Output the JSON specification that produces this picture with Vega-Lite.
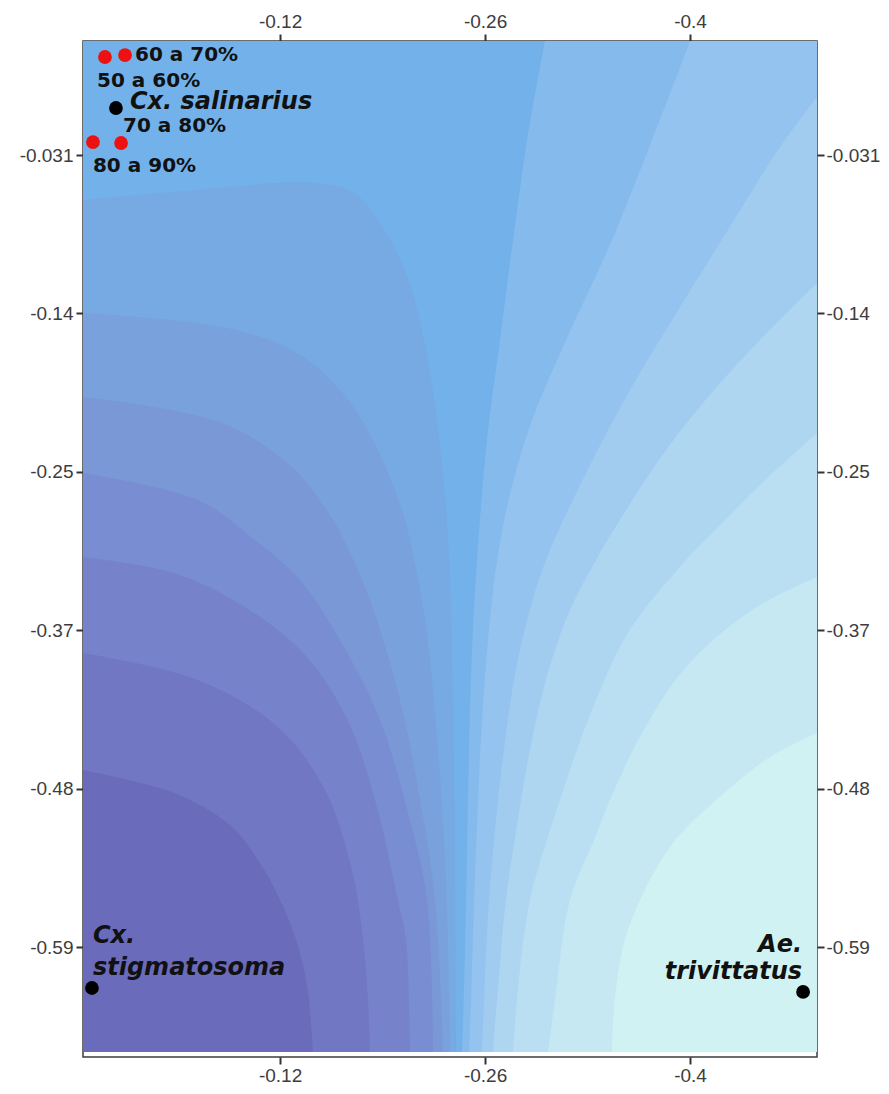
{
  "$schema": "https://vega.github.io/schema/vega-lite/v6.json",
  "width": 734,
  "height": 1016,
  "autosize": {"type": "none"},
  "padding": {"left": 83, "top": 41, "right": 72, "bottom": 37},
  "background": "white",
  "config": {
    "view": {"stroke": "#3c3c3c", "strokeWidth": 1.5},
    "axis": {
      "grid": false, "domain": false, "title": null,
      "tickSize": 7, "tickWidth": 2, "tickColor": "#333333",
      "labelFont": "Liberation Sans", "labelFontSize": 19, "labelColor": "#3d3d3d",
      "labelExpr": "replace(format(datum.value, '.2~r'), '\u2212', '-')"
    }
  },
  "datasets": {
    "bands": [
      {"band": "B1", "x": 0.0146, "y": -0.0627}, {"band": "B1", "x": -0.0476, "y": -0.0571}, {"band": "B1", "x": -0.1411, "y": -0.0507}, {"band": "B1", "x": -0.1705, "y": -0.0578}, {"band": "B1", "x": -0.1896, "y": -0.0818}, {"band": "B1", "x": -0.2060, "y": -0.1142}, {"band": "B1", "x": -0.2183, "y": -0.1615}, {"band": "B1", "x": -0.2286, "y": -0.2321}, {"band": "B1", "x": -0.2347, "y": -0.3027}, {"band": "B1", "x": -0.2381, "y": -0.4156}, {"band": "B1", "x": -0.2395, "y": -0.5427}, {"band": "B1", "x": -0.2402, "y": -0.6641},
      {"band": "B2", "x": 0.0146, "y": -0.1425}, {"band": "B2", "x": -0.0803, "y": -0.1524}, {"band": "B2", "x": -0.1281, "y": -0.1686}, {"band": "B2", "x": -0.1609, "y": -0.1968}, {"band": "B2", "x": -0.1835, "y": -0.2321}, {"band": "B2", "x": -0.2026, "y": -0.2794}, {"band": "B2", "x": -0.2087, "y": -0.3027}, {"band": "B2", "x": -0.2190, "y": -0.3592}, {"band": "B2", "x": -0.2279, "y": -0.4509}, {"band": "B2", "x": -0.2333, "y": -0.5427}, {"band": "B2", "x": -0.2361, "y": -0.6641},
      {"band": "B3", "x": 0.0146, "y": -0.2018}, {"band": "B3", "x": -0.0803, "y": -0.2201}, {"band": "B3", "x": -0.1281, "y": -0.2512}, {"band": "B3", "x": -0.1575, "y": -0.2907}, {"band": "B3", "x": -0.1637, "y": -0.3027}, {"band": "B3", "x": -0.1814, "y": -0.3450}, {"band": "B3", "x": -0.2019, "y": -0.4156}, {"band": "B3", "x": -0.2156, "y": -0.4862}, {"band": "B3", "x": -0.2258, "y": -0.5568}, {"band": "B3", "x": -0.2313, "y": -0.6641},
      {"band": "B4", "x": 0.0146, "y": -0.2554}, {"band": "B4", "x": -0.0639, "y": -0.2745}, {"band": "B4", "x": -0.1029, "y": -0.3027}, {"band": "B4", "x": -0.1336, "y": -0.3309}, {"band": "B4", "x": -0.1609, "y": -0.3733}, {"band": "B4", "x": -0.1883, "y": -0.4297}, {"band": "B4", "x": -0.2087, "y": -0.5003}, {"band": "B4", "x": -0.2204, "y": -0.5568}, {"band": "B4", "x": -0.2245, "y": -0.6641},
      {"band": "B5", "x": 0.0146, "y": -0.3147}, {"band": "B5", "x": -0.0476, "y": -0.3260}, {"band": "B5", "x": -0.0960, "y": -0.3500}, {"band": "B5", "x": -0.1384, "y": -0.3853}, {"band": "B5", "x": -0.1671, "y": -0.4319}, {"band": "B5", "x": -0.1862, "y": -0.4911}, {"band": "B5", "x": -0.2005, "y": -0.5568}, {"band": "B5", "x": -0.2060, "y": -0.5843}, {"band": "B5", "x": -0.2087, "y": -0.6641},
      {"band": "B6", "x": 0.0146, "y": -0.3825}, {"band": "B6", "x": -0.0639, "y": -0.4015}, {"band": "B6", "x": -0.1186, "y": -0.4347}, {"band": "B6", "x": -0.1507, "y": -0.4791}, {"band": "B6", "x": -0.1691, "y": -0.5356}, {"band": "B6", "x": -0.1760, "y": -0.5780}, {"band": "B6", "x": -0.1801, "y": -0.6274}, {"band": "B6", "x": -0.1814, "y": -0.6641},
      {"band": "B7", "x": 0.0146, "y": -0.4650}, {"band": "B7", "x": -0.0476, "y": -0.4813}, {"band": "B7", "x": -0.0858, "y": -0.5039}, {"band": "B7", "x": -0.1049, "y": -0.5286}, {"band": "B7", "x": -0.1200, "y": -0.5568}, {"band": "B7", "x": -0.1309, "y": -0.5850}, {"band": "B7", "x": -0.1384, "y": -0.6168}, {"band": "B7", "x": -0.1425, "y": -0.6641},
      {"band": "R1", "x": -0.2443, "y": -0.6641}, {"band": "R1", "x": -0.2463, "y": -0.5921}, {"band": "R1", "x": -0.2477, "y": -0.5215}, {"band": "R1", "x": -0.2490, "y": -0.4509}, {"band": "R1", "x": -0.2511, "y": -0.3803}, {"band": "R1", "x": -0.2545, "y": -0.3168}, {"band": "R1", "x": -0.2613, "y": -0.2321}, {"band": "R1", "x": -0.2702, "y": -0.1615}, {"band": "R1", "x": -0.2791, "y": -0.0910}, {"band": "R1", "x": -0.2887, "y": -0.0204}, {"band": "R1", "x": -0.3009, "y": 0.0495}, {"band": "R1", "x": -0.3050, "y": 0.0707}, {"band": "R1", "x": -0.4867, "y": 0.0707},
      {"band": "R2", "x": -0.2490, "y": -0.6641}, {"band": "R2", "x": -0.2504, "y": -0.6274}, {"band": "R2", "x": -0.2525, "y": -0.5568}, {"band": "R2", "x": -0.2552, "y": -0.4862}, {"band": "R2", "x": -0.2579, "y": -0.4297}, {"band": "R2", "x": -0.2620, "y": -0.3733}, {"band": "R2", "x": -0.2682, "y": -0.3168}, {"band": "R2", "x": -0.2777, "y": -0.2674}, {"band": "R2", "x": -0.2921, "y": -0.2180}, {"band": "R2", "x": -0.3153, "y": -0.1615}, {"band": "R2", "x": -0.3467, "y": -0.0910}, {"band": "R2", "x": -0.3740, "y": -0.0204}, {"band": "R2", "x": -0.4000, "y": 0.0495}, {"band": "R2", "x": -0.4075, "y": 0.0707}, {"band": "R2", "x": -0.4867, "y": 0.0707},
      {"band": "R3", "x": -0.2579, "y": -0.6641}, {"band": "R3", "x": -0.2593, "y": -0.6274}, {"band": "R3", "x": -0.2627, "y": -0.5568}, {"band": "R3", "x": -0.2689, "y": -0.4862}, {"band": "R3", "x": -0.2729, "y": -0.4509}, {"band": "R3", "x": -0.2798, "y": -0.4015}, {"band": "R3", "x": -0.2887, "y": -0.3592}, {"band": "R3", "x": -0.3016, "y": -0.3168}, {"band": "R3", "x": -0.3290, "y": -0.2554}, {"band": "R3", "x": -0.3590, "y": -0.1968}, {"band": "R3", "x": -0.3932, "y": -0.1382}, {"band": "R3", "x": -0.4259, "y": -0.0839}, {"band": "R3", "x": -0.4601, "y": -0.0274}, {"band": "R3", "x": -0.4867, "y": 0.0100},
      {"band": "R4", "x": -0.2654, "y": -0.6641}, {"band": "R4", "x": -0.2682, "y": -0.6274}, {"band": "R4", "x": -0.2743, "y": -0.5568}, {"band": "R4", "x": -0.2846, "y": -0.4862}, {"band": "R4", "x": -0.2907, "y": -0.4509}, {"band": "R4", "x": -0.3016, "y": -0.4015}, {"band": "R4", "x": -0.3180, "y": -0.3521}, {"band": "R4", "x": -0.3358, "y": -0.3168}, {"band": "R4", "x": -0.3508, "y": -0.2907}, {"band": "R4", "x": -0.3836, "y": -0.2392}, {"band": "R4", "x": -0.4164, "y": -0.1968}, {"band": "R4", "x": -0.4478, "y": -0.1615}, {"band": "R4", "x": -0.4867, "y": -0.1213},
      {"band": "R5", "x": -0.2791, "y": -0.6641}, {"band": "R5", "x": -0.2818, "y": -0.6274}, {"band": "R5", "x": -0.2907, "y": -0.5568}, {"band": "R5", "x": -0.3112, "y": -0.4862}, {"band": "R5", "x": -0.3180, "y": -0.4650}, {"band": "R5", "x": -0.3331, "y": -0.4227}, {"band": "R5", "x": -0.3576, "y": -0.3683}, {"band": "R5", "x": -0.3973, "y": -0.3168}, {"band": "R5", "x": -0.4150, "y": -0.2978}, {"band": "R5", "x": -0.4492, "y": -0.2625}, {"band": "R5", "x": -0.4867, "y": -0.2272},
      {"band": "R6", "x": -0.3030, "y": -0.6641}, {"band": "R6", "x": -0.3078, "y": -0.6274}, {"band": "R6", "x": -0.3180, "y": -0.5568}, {"band": "R6", "x": -0.3344, "y": -0.5144}, {"band": "R6", "x": -0.3453, "y": -0.4862}, {"band": "R6", "x": -0.3672, "y": -0.4389}, {"band": "R6", "x": -0.3973, "y": -0.3923}, {"band": "R6", "x": -0.4423, "y": -0.3521}, {"band": "R6", "x": -0.4867, "y": -0.3288},
      {"band": "R7", "x": -0.3467, "y": -0.6641}, {"band": "R7", "x": -0.3488, "y": -0.6252}, {"band": "R7", "x": -0.3576, "y": -0.5780}, {"band": "R7", "x": -0.3863, "y": -0.5194}, {"band": "R7", "x": -0.4218, "y": -0.4827}, {"band": "R7", "x": -0.4546, "y": -0.4559}, {"band": "R7", "x": -0.4867, "y": -0.4389}
    ],
    "points": [
      {"name": "50 a 60%", "kind": "percent", "x": -0.0004, "y": 0.0382},
      {"name": "60 a 70%", "kind": "percent", "x": -0.0141, "y": 0.0396},
      {"name": "80 a 90%", "kind": "percent", "x": 0.0078, "y": -0.0218},
      {"name": "70 a 80%", "kind": "percent", "x": -0.0114, "y": -0.0225},
      {"name": "Cx. salinarius", "kind": "species", "x": -0.0079, "y": 0.0022},
      {"name": "Cx. stigmatosoma", "kind": "species", "x": 0.0085, "y": -0.6189},
      {"name": "Ae. trivittatus", "kind": "species", "x": -0.4772, "y": -0.6217}
    ],
    "labels": [
      {"label": "60 a 70%", "kind": "percent", "x": -0.0209, "y": 0.0356},
      {"label": "50 a 60%", "kind": "percent", "x": 0.0050, "y": 0.0168},
      {"label": "70 a 80%", "kind": "percent", "x": -0.0127, "y": -0.0145},
      {"label": "80 a 90%", "kind": "percent", "x": 0.0078, "y": -0.0428},
      {"label": "Cx. salinarius", "kind": "species", "x": -0.0175, "y": 0.0013},
      {"label": "Cx.\nstigmatosoma", "kind": "species", "x": 0.0078, "y": -0.5873},
      {"label": "Ae.\ntrivittatus", "kind": "species", "x": -0.4765, "y": -0.5935}
    ]
  },
  "resolve": {"scale": {"color": "independent"}, "axis": {"x": "independent", "y": "independent"}},
  "layer": [
    {
      "data": {"values": [{"x": 0.0146, "x2": -0.4867, "y": 0.0495, "y2": -0.6641}]},
      "mark": {"type": "rect", "color": "#72b1e9"},
      "encoding": {
        "x": {"field": "x", "type": "quantitative", "scale": {"domain": [-0.4867, 0.0146], "reverse": true, "nice": false, "zero": false},
              "axis": {"orient": "bottom", "values": [-0.12, -0.26, -0.4], "labelPadding": 2}},
        "x2": {"field": "x2"},
        "y": {"field": "y", "type": "quantitative", "scale": {"domain": [-0.6676, 0.0495], "nice": false, "zero": false},
              "axis": {"orient": "left", "values": [-0.031, -0.1428, -0.2546, -0.3664, -0.4782, -0.59], "labelPadding": 3}},
        "y2": {"field": "y2"}
      }
    },
    {
      "data": {"name": "bands"},
      "mark": {"type": "area", "orient": "vertical", "interpolate": "catmull-rom", "clip": true},
      "encoding": {
        "x": {"field": "x", "type": "quantitative", "scale": {"domain": [-0.4867, 0.0146], "reverse": true, "nice": false, "zero": false},
              "axis": {"orient": "top", "values": [-0.12, -0.26, -0.4], "labelPadding": 3}},
        "y": {"field": "y", "type": "quantitative", "stack": null, "scale": {"domain": [-0.6676, 0.0495], "nice": false, "zero": false},
              "axis": {"orient": "right", "values": [-0.031, -0.1428, -0.2546, -0.3664, -0.4782, -0.59], "labelPadding": 2}},
        "y2": {"datum": -0.6641},
        "color": {"field": "band", "type": "nominal", "legend": null,
                  "scale": {"domain": ["B1","B2","B3","B4","B5","B6","B7","R1","R2","R3","R4","R5","R6","R7"],
                            "range": ["#77a9e2","#79a1dc","#7a98d6","#798ed2","#7683cb","#7277c4","#6b6bbc","#85baec","#93c3ee","#a1ccf0","#aed6f1","#badff3","#c5e8f3","#d0f2f3"]}}
      }
    },
    {
      "data": {"name": "points"},
      "mark": {"type": "circle", "size": 190, "opacity": 1},
      "encoding": {
        "x": {"field": "x", "type": "quantitative", "axis": null},
        "y": {"field": "y", "type": "quantitative", "axis": null},
        "color": {"field": "kind", "type": "nominal", "legend": null,
                  "scale": {"domain": ["percent", "species"], "range": ["#ee1111", "#000000"]}}
      }
    },
    {
      "data": {"name": "labels"},
      "transform": [{"filter": "datum.kind === 'percent'"}],
      "mark": {"type": "text", "align": "left", "baseline": "alphabetic", "font": "DejaVu Sans", "fontWeight": "bold", "fontSize": 20, "color": "#111111"},
      "encoding": {
        "x": {"field": "x", "type": "quantitative", "axis": null},
        "y": {"field": "y", "type": "quantitative", "axis": null},
        "text": {"field": "label"}
      }
    },
    {
      "data": {"name": "labels"},
      "transform": [{"filter": "datum.kind === 'species' && datum.x > -0.3"}],
      "mark": {"type": "text", "align": "left", "baseline": "alphabetic", "font": "DejaVu Sans", "fontWeight": "bold", "fontStyle": "italic", "fontSize": 24, "lineHeight": 32, "lineBreak": "\n", "color": "#111111"},
      "encoding": {
        "x": {"field": "x", "type": "quantitative", "axis": null},
        "y": {"field": "y", "type": "quantitative", "axis": null},
        "text": {"field": "label"}
      }
    },
    {
      "data": {"name": "labels"},
      "transform": [{"filter": "datum.kind === 'species' && datum.x < -0.3"}],
      "mark": {"type": "text", "align": "right", "baseline": "alphabetic", "font": "DejaVu Sans", "fontWeight": "bold", "fontStyle": "italic", "fontSize": 24, "lineHeight": 27, "lineBreak": "\n", "color": "#111111"},
      "encoding": {
        "x": {"field": "x", "type": "quantitative", "axis": null},
        "y": {"field": "y", "type": "quantitative", "axis": null},
        "text": {"field": "label"}
      }
    }
  ]
}
